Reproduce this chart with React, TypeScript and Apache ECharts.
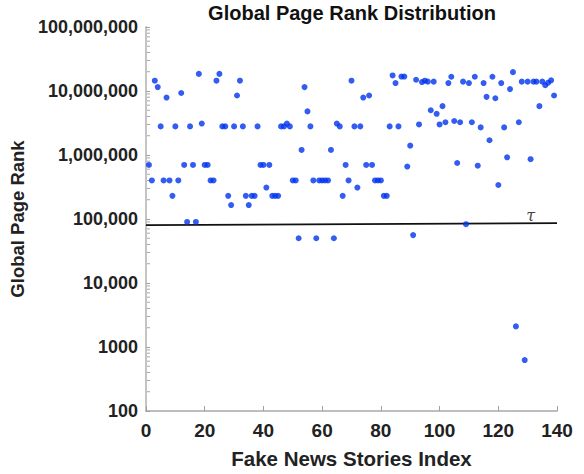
import React, { useEffect, useRef } from "react";
import * as echarts from "echarts";

const storyIndex: number[] = Array.from({ length: 139 }, (_, i) => i + 1);

const pageRank: number[] = [
  700000, 400000, 14500000, 11500000, 2800000, 400000, 7900000, 400000, 230000, 2800000,
  400000, 9300000, 700000, 90000, 2800000, 700000, 90000, 18500000, 3100000, 700000,
  700000, 400000, 400000, 14500000, 18500000, 2800000, 2800000, 230000, 165000, 2800000,
  8500000, 14500000, 2800000, 230000, 165000, 230000, 230000, 2800000, 700000, 700000,
  310000, 700000, 230000, 230000, 230000, 2800000, 2800000, 3100000, 2800000, 400000,
  400000, 50000, 1200000, 11500000, 4800000, 2800000, 400000, 50000, 400000, 400000,
  400000, 400000, 1200000, 50000, 3100000, 2800000, 230000, 700000, 400000, 14500000,
  2800000, 310000, 2800000, 7900000, 700000, 8500000, 700000, 400000, 400000, 400000,
  230000, 230000, 2800000, 17500000, 13300000, 2800000, 16800000, 16800000, 660000, 1400000,
  56000, 15000000, 3000000, 13800000, 14500000, 14000000, 5000000, 14000000, 4400000, 3000000,
  5800000, 3250000, 13300000, 16700000, 3400000, 750000, 3250000, 14000000, 83000, 13300000,
  3250000, 16700000, 680000, 2700000, 13300000, 8100000, 1700000, 16700000, 7700000, 340000,
  13300000, 2700000, 920000, 10700000, 19700000, 2100, 3250000, 14000000, 625, 14000000,
  860000, 14000000, 14000000, 5800000, 14000000, 12300000, 13500000, 14700000, 8500000,
];

// threshold line tau
const tauX: number[] = [0, 140];
const tauY: number[] = [80000, 86000];
const tauLabelPoint: [number, number] = [131, 86000];

const xTicks: number[] = [0, 20, 40, 60, 80, 100, 120, 140];
const yDecades: number[] = [100, 1000, 10000, 100000, 1000000, 10000000];
const minorMultipliers: number[] = [2, 3, 4, 5, 6, 7, 8, 9];

const FONT = "'Liberation Sans', Arial, Helvetica, sans-serif";

export default function App() {
  const ref = useRef<HTMLDivElement>(null);
  useEffect(() => {
    if (!ref.current) return;
    const chart = echarts.init(ref.current, undefined, { renderer: "svg" });
    const minorTicks: number[][] = [];
    yDecades.forEach((d) => minorMultipliers.forEach((m) => minorTicks.push([0, d * m])));

    chart.setOption({
      animation: false,
      backgroundColor: "#ffffff",
      title: {
        text: "Global Page Rank Distribution",
        left: 352,
        top: 3,
        textAlign: "center",
        padding: 0,
        textStyle: { fontFamily: FONT, fontWeight: "bold", fontSize: 20, color: "#111" },
      },
      grid: { left: 145, right: 27, top: 27, bottom: 55, containLabel: false },
      xAxis: {
        type: "value",
        min: xTicks[0],
        max: xTicks[xTicks.length - 1],
        interval: 20,
        name: "Fake News Stories Index",
        nameLocation: "middle",
        nameGap: 37,
        nameTextStyle: { fontFamily: FONT, fontWeight: "bold", fontSize: 20.5, color: "#222" },
        axisLine: { show: true, lineStyle: { color: "#a8a8a8", width: 1.5 } },
        axisTick: { show: true, inside: true, length: 5, lineStyle: { color: "#a0a0a0", width: 1 } },
        axisLabel: { fontFamily: FONT, fontWeight: "bold", fontSize: 19, color: "#222", margin: 10 },
        splitLine: { show: false },
      },
      yAxis: {
        type: "log",
        logBase: 10,
        min: 100,
        max: 100000000,
        name: "Global Page Rank",
        nameLocation: "middle",
        nameGap: 104,
        nameTextStyle: { fontFamily: FONT, fontWeight: "bold", fontSize: 18.5, color: "#222" },
        axisLine: { show: true, lineStyle: { color: "#c4c4c4", width: 2 } },
        axisTick: { show: true, inside: true, length: 4, lineStyle: { color: "#a0a0a0", width: 1 } },
        axisLabel: {
          fontFamily: FONT,
          fontWeight: "bold",
          fontSize: 18,
          color: "#222",
          margin: 8,
          formatter: (v: number) => (v >= 10000 ? Math.round(v).toLocaleString("en-US") : String(Math.round(v))),
        },
        splitLine: { show: false },
      },
      series: [
        {
          type: "custom",
          silent: true,
          clip: false,
          data: minorTicks,
          renderItem: (params: any, api: any) => {
            const p = api.coord([0, api.value(1)]);
            return {
              type: "line",
              shape: { x1: p[0] + 1, y1: p[1], x2: p[0] + 4, y2: p[1] },
              style: { stroke: "#a8a8a8", lineWidth: 1 },
            };
          },
          z: 1,
        },
        {
          type: "line",
          data: tauX.map((x, i) => [x, tauY[i]]),
          symbol: "none",
          lineStyle: { color: "#111", width: 1.8 },
          silent: true,
          z: 2,
        },
        {
          type: "scatter",
          data: [tauLabelPoint],
          symbolSize: 0,
          silent: true,
          label: {
            show: true,
            position: "top",
            distance: 0,
            formatter: "τ",
            fontFamily: "'DejaVu Serif', 'Liberation Serif', serif",
            fontStyle: "italic",
            fontSize: 16,
            color: "#111",
          },
          z: 3,
        },
        {
          type: "scatter",
          data: storyIndex.map((x, i) => [x, pageRank[i]]),
          symbol: "circle",
          symbolSize: 6,
          itemStyle: { color: "#0033ee" },
          z: 4,
        },
      ],
    });
    return () => chart.dispose();
  }, []);
  return (
    <div
      ref={ref}
      style={{ position: "absolute", left: 0, top: 0, width: 584, height: 474, background: "#fff" }}
    />
  );
}
